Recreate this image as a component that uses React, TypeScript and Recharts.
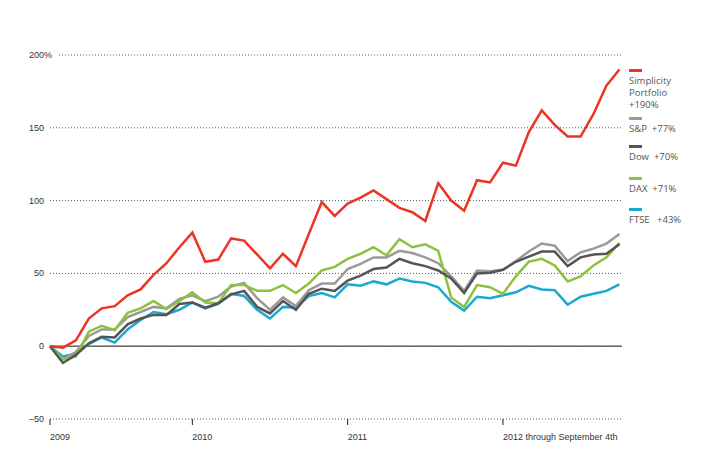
import React from 'react';
import { LineChart, Line, XAxis, YAxis, CartesianGrid, ReferenceLine } from 'recharts';

// monthly points, Jan 2009 .. Sep 2012 (cumulative % return)
const simplicity = [
  0, -1, 4, 19, 26, 27.5, 35, 39, 49, 57, 68, 78, 58, 59.5, 74, 72.5, 63, 53.5, 63.5, 55,
  77, 99, 89.5, 98, 102, 107, 101, 95, 92, 86, 112, 100, 93, 114, 112.5, 126, 124, 147, 162, 152,
  144, 144, 159.5, 179, 190,
];
const sp = [
  0, -9, -4, 7, 11.5, 11.5, 20, 23.5, 27, 26, 32.5, 35, 31, 34, 41, 43.5, 33, 25, 33.5, 27.5,
  38.5, 43, 43, 53, 56.5, 61, 61, 65.5, 64, 61, 57, 48, 38, 52, 51.5, 52.5, 58.5, 65, 70.5, 69,
  58.5, 64.5, 67, 70.5, 77,
];
const dow = [
  0, -11.5, -6, 2, 6.5, 6, 15, 19, 21.5, 21.5, 29, 30, 26.5, 29.5, 35.5, 38, 27, 22.5, 31, 25,
  36, 39.5, 38, 45, 48.5, 53, 54, 60, 57, 55, 52, 46.5, 36.5, 50, 50.5, 52.5, 58, 61.5, 65, 65,
  55, 61, 63, 63.5, 70,
];
const dax = [
  0, -9, -7, 10, 14, 11, 23, 26, 31, 25.5, 31, 37, 30, 29.5, 42, 42, 38, 38, 42, 36.5,
  43, 52, 54.5, 60, 63.5, 68, 62.5, 73.5, 68, 70, 65.5, 33.5, 27, 42, 40.5, 36, 48, 58, 60, 55.5,
  44.5, 48, 55.5, 61, 71,
];
const ftse = [
  0, -7, -5, 1.5, 6, 2.5, 11.5, 18, 23.5, 22, 25, 30, 26, 29, 36, 34.5, 25, 19, 27, 26.5,
  34.5, 36.5, 33.5, 42.5, 41.5, 44.5, 42.5, 46.5, 44.5, 43.5, 40.5, 30.5, 24.5, 34, 33, 35, 37, 41.5, 39, 38.5,
  28.5, 34, 36, 38, 42.5,
];

const xTicks = [0, 11, 23, 35];
const xLabels = ['2009', '2010', '2011', '2012 through September 4th'];
const yTicks = [-50, 0, 50, 100, 150, 200];

const legendItems = [
  { lines: ['Simplicity', 'Portfolio', '+190%'], color: '#ec3424', top: 69 },
  { lines: ['S&P\u00a0\u00a0+77%'], color: '#9a9a9a', top: 117 },
  { lines: ['Dow\u00a0\u00a0+70%'], color: '#555555', top: 145 },
  { lines: ['DAX\u00a0\u00a0+71%'], color: '#8cc23f', top: 177 },
  { lines: ['FTSE\u00a0\u00a0\u00a0+43%'], color: '#1aa8d2', top: 208 },
];

const data = simplicity.map((v, i) => ({
  i,
  simplicity: v,
  sp: sp[i],
  dow: dow[i],
  dax: dax[i],
  ftse: ftse[i],
}));

const axisFont = '"Liberation Sans", Arial, sans-serif';

const YTick = (props: any) => {
  const { x, y, payload } = props;
  const v = payload.value as number;
  const label = v < 0 ? '\u2013' + Math.abs(v) : String(v);
  return (
    <g>
      {v === 200 && <rect x={x} y={y - 4} width={14} height={8} fill="#fff" />}
      <text x={x} y={y} dy={3} textAnchor="end" fontSize={9} fill="#333" fontFamily={axisFont}>
        {label}
      </text>
      {v === 200 && (
        <text x={x} y={y} dy={3} textAnchor="start" fontSize={9} fill="#333" fontFamily={axisFont}>
          %
        </text>
      )}
    </g>
  );
};

const XTick = (props: any) => {
  const { x, payload } = props;
  const idx = xTicks.indexOf(payload.value);
  return (
    <text x={x} y={440} textAnchor="start" fontSize={9} fill="#333" fontFamily={axisFont}>
      {xLabels[idx]}
    </text>
  );
};

export default function App() {
  return (
    <div style={{ position: 'absolute', left: 0, top: 0, width: 705, height: 473, background: '#fff' }}>
      <LineChart
        width={705}
        height={473}
        data={data}
        margin={{ top: 55, right: 83, bottom: 24, left: 0 }}
      >
        <CartesianGrid vertical={false} stroke="#555" strokeDasharray="1 2" />
        <XAxis
          dataKey="i"
          type="number"
          domain={[0, 44.2]}
          ticks={xTicks}
          axisLine={false}
          tickSize={6}
          tickLine={{ stroke: '#222' }}
          height={30}
          tick={<XTick />}
          interval={0}
        />
        <YAxis
          domain={[-50, 200]}
          ticks={yTicks}
          width={50}
          axisLine={false}
          tickLine={false}
          tickSize={0}
          tickMargin={6}
          tick={<YTick />}
          interval={0}
        />
        <ReferenceLine y={0} stroke="#666" strokeWidth={1.5} />
        <Line type="linear" dataKey="ftse" stroke="#1aa8d2" strokeWidth={2.5} dot={false} isAnimationActive={false} />
        <Line type="linear" dataKey="sp" stroke="#9a9a9a" strokeWidth={2.5} dot={false} isAnimationActive={false} />
        <Line type="linear" dataKey="dax" stroke="#8cc23f" strokeWidth={2.5} dot={false} isAnimationActive={false} />
        <Line type="linear" dataKey="dow" stroke="#555555" strokeWidth={2.5} dot={false} isAnimationActive={false} />
        <Line type="linear" dataKey="simplicity" stroke="#ec3424" strokeWidth={2.5} dot={false} isAnimationActive={false} />
      </LineChart>
      {legendItems.map((item) => (
        <div key={item.lines[0]} style={{ position: 'absolute', left: 629, top: item.top }}>
          <div style={{ width: 13, height: 3, background: item.color, marginBottom: 3 }} />
          {item.lines.map((t) => (
            <div
              key={t}
              style={{
                fontFamily: '"Open Sans", sans-serif',
                fontSize: 9.5,
                lineHeight: '12px',
                height: 12,
                color: '#555',
                whiteSpace: 'nowrap',
              }}
            >
              {t}
            </div>
          ))}
        </div>
      ))}
    </div>
  );
}
